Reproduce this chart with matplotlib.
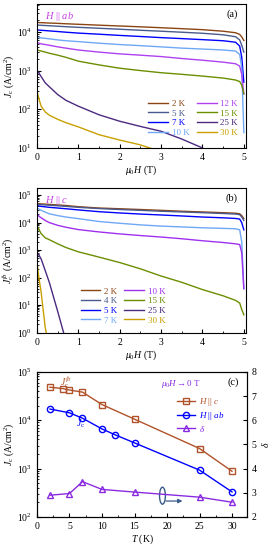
import matplotlib
matplotlib.use("Agg")
import matplotlib.pyplot as plt
import numpy as np
from matplotlib.patches import Ellipse
from matplotlib.ticker import LogLocator, MultipleLocator, NullFormatter

plt.rcParams["font.family"] = ["Liberation Serif", "DejaVu Serif"]
plt.rcParams["mathtext.fontset"] = "custom"
plt.rcParams["mathtext.rm"] = "Liberation Serif"
plt.rcParams["mathtext.it"] = "Liberation Serif:italic"
plt.rcParams["font.size"] = 7

# field grid (T), shared by the panels (a) and (b)
field = [0, 0.05, 0.1, 0.2, 0.3, 0.5, 0.7, 1, 1.5, 2, 2.5, 3, 3.5, 4, 4.5, 4.8, 4.9, 4.95, 5.0]

# (a) H || ab
temps_a = ["2 K", "5 K", "7 K", "10 K", "12 K", "15 K", "25 K", "30 K"]
jc_ab_2K = [1.75e4, 1.74e4, 1.73e4, 1.71e4, 1.69e4, 1.66e4, 1.62e4, 1.57e4, 1.49e4, 1.42e4, 1.35e4, 1.28e4, 1.21e4, 1.14e4, 1.04e4, 9.5e3, 8.6e3, 7.4e3, 6e3]
jc_ab_5K = [1.5e4, 1.49e4, 1.48e4, 1.46e4, 1.44e4, 1.4e4, 1.36e4, 1.31e4, 1.24e4, 1.17e4, 1.1e4, 1.04e4, 9.8e3, 9.2e3, 8.4e3, 7.5e3, 6.2e3, 4.5e3, 3e3]
jc_ab_7K = [1.12e4, 1.11e4, 1.1e4, 1.08e4, 1.06e4, 1.02e4, 9.8e3, 9.3e3, 8.7e3, 8.1e3, 7.6e3, 7.1e3, 6.7e3, 6.3e3, 5.9e3, 5.4e3, 4.3e3, 2.2e3, 5e2]
jc_ab_10K = [7.3e3, 7.1e3, 7e3, 6.8e3, 6.6e3, 6.2e3, 5.9e3, 5.6e3, 5.1e3, 4.7e3, 4.4e3, 4.1e3, 3.8e3, 3.6e3, 3.4e3, 3.2e3, 2.6e3, 1.2e3, 25]
jc_ab_12K = [5.3e3, 5.1e3, 4.9e3, 4.7e3, 4.5e3, 4.1e3, 3.8e3, 3.4e3, 3.0e3, 2.7e3, 2.5e3, 2.3e3, 2.05e3, 1.85e3, 1.65e3, 1.5e3, 1.3e3, 800, 250]
jc_ab_15K = [3.4e3, 3.3e3, 3.2e3, 3.0e3, 2.8e3, 2.5e3, 2.2e3, 1.75e3, 1.4e3, 1.15e3, 1.0e3, 880, 800, 720, 640, 570, 520, 420, 250]
jc_ab_25K = [1e3, 850, 700, 480, 380, 240, 170, 120, 72, 49, 36, 27, 17, 10, 4, 3, 3, 3, 3]
jc_ab_30K = [300, 180, 120, 85, 70, 55, 45, 35, 22, 16, 12, 8, 5, 5, 5, 5, 5, 5, 5]

# (b) H || c
temps_b = ["2 K", "4 K", "5 K", "7 K", "10 K", "15 K", "25 K", "30 K"]
jc_c_2K = [4.9e4, 4.85e4, 4.8e4, 4.7e4, 4.6e4, 4.4e4, 4.2e4, 3.8e4, 3.4e4, 3.2e4, 3.0e4, 2.8e4, 2.6e4, 2.45e4, 2.3e4, 2.2e4, 2.1e4, 1.8e4, 1.4e4]
jc_c_4K = [4.6e4, 4.55e4, 4.5e4, 4.4e4, 4.3e4, 4.1e4, 3.9e4, 3.6e4, 3.25e4, 3.0e4, 2.8e4, 2.6e4, 2.45e4, 2.3e4, 2.15e4, 2.05e4, 1.95e4, 1.6e4, 1.2e4]
jc_c_5K = [4.1e4, 4.0e4, 3.9e4, 3.75e4, 3.6e4, 3.4e4, 3.2e4, 2.9e4, 2.5e4, 2.25e4, 2.05e4, 1.9e4, 1.75e4, 1.6e4, 1.5e4, 1.42e4, 1.35e4, 1.0e4, 5.5e3]
jc_c_7K = [3.4e4, 3.1e4, 2.8e4, 2.4e4, 2.1e4, 1.8e4, 1.6e4, 1.4e4, 1.1e4, 9.5e3, 8.3e3, 7.5e3, 7e3, 6.5e3, 6.2e3, 6e3, 5.5e3, 2e3, 40]
jc_c_10K = [2.1e4, 1.7e4, 1.5e4, 1.2e4, 1.0e4, 8e3, 6.8e3, 5.6e3, 4.6e3, 3.9e3, 3.4e3, 3e3, 2.6e3, 2.2e3, 1.9e3, 1.7e3, 1.6e3, 800, 40]
jc_c_15K = [8e3, 5.5e3, 4e3, 2.8e3, 2.4e3, 1.7e3, 1.25e3, 870, 560, 355, 210, 115, 68, 37, 22, 15, 12, 7, 4.5]
jc_c_25K = [830, 650, 480, 180, 66, 6, 0.5, 0.1, 0.1, 0.1, 0.1, 0.1, 0.1, 0.1, 0.1, 0.1, 0.1, 0.1, 0.1]
jc_c_30K = [355, 90, 30, 1.5, 0.3, 0.1, 0.1, 0.1, 0.1, 0.1, 0.1, 0.1, 0.1, 0.1, 0.1, 0.1, 0.1, 0.1, 0.1]

# (c) self-field values vs temperature
T_c = [2, 4, 5, 7, 10, 15, 25, 30]
jc0_c = [4.8e4, 4.5e4, 4.2e4, 3.8e4, 2.1e4, 1.05e4, 2.6e3, 880]
T_ab = [2, 5, 7, 10, 12, 15, 25, 30]
jc0_ab = [1.7e4, 1.42e4, 1.1e4, 6.6e3, 5.0e3, 3.4e3, 930, 330]
T_delta = [2, 5, 7, 10, 15, 25, 30]
delta = [2.9, 2.97, 3.46, 3.14, 3.03, 2.82, 2.61]

colors_a = ["#8b4513", "#4a5a8c", "#0000ff", "#6fa8f5", "#b040f0", "#6b8e00", "#4b2a80", "#c8a000"]
colors_b = ["#8b4513", "#4a5a8c", "#0000ff", "#6fa8f5", "#a030f0", "#6b8e00", "#4b2a80", "#c8a000"]

fig = plt.figure(figsize=(2.72, 5.5), dpi=100)
ax_a = fig.add_axes([0.136, 0.731, 0.768, 0.262])
ax_b = fig.add_axes([0.136, 0.395, 0.768, 0.263])
ax_c = fig.add_axes([0.136, 0.060, 0.772, 0.264])


def style_field_axis(ax):
    ax.set_yscale("log")
    ax.set_xlim(0, 5.05)
    ax.xaxis.set_major_locator(MultipleLocator(1))
    ax.xaxis.set_minor_locator(MultipleLocator(0.5))
    ax.yaxis.set_major_locator(LogLocator(base=10, numticks=10))
    ax.yaxis.set_minor_locator(LogLocator(base=10, subs=np.arange(2, 10), numticks=10))
    ax.yaxis.set_minor_formatter(NullFormatter())
    ax.tick_params(which="both", direction="in", top=False, right=False)
    ax.tick_params(which="major", length=3)
    ax.tick_params(which="minor", length=1.5)
    ax.set_xlabel(r"$\mu_0H$ (T)", labelpad=1)


curves_a = [jc_ab_2K, jc_ab_5K, jc_ab_7K, jc_ab_10K, jc_ab_12K, jc_ab_15K, jc_ab_25K, jc_ab_30K]
for lab, col, jc in zip(temps_a, colors_a, curves_a):
    ax_a.plot(field, jc, color=col, lw=1.0, label=lab)
style_field_axis(ax_a)
ax_a.set_ylim(10, 5.3e4)
ax_a.set_ylabel(r"$J_{\rm c}$ (A/cm$^2$)", labelpad=1)
ax_a.text(0.04, 0.96, r"$H$ || $ab$", transform=ax_a.transAxes, color="#c040e0", ha="left", va="top", fontsize=7.5)
ax_a.text(0.96, 0.96, "(a)", transform=ax_a.transAxes, ha="right", va="top", fontsize=7.5)
leg = ax_a.legend(loc="lower right", ncol=2, frameon=False, fontsize=6.5, handlelength=2.2,
                  columnspacing=0.8, handletextpad=0.4, labelspacing=0.15,
                  bbox_to_anchor=(1.0, 0.02))
for t, col in zip(leg.get_texts(), colors_a):
    t.set_color(col)

curves_b = [jc_c_2K, jc_c_4K, jc_c_5K, jc_c_7K, jc_c_10K, jc_c_15K, jc_c_25K, jc_c_30K]
for lab, col, jc in zip(temps_b, colors_b, curves_b):
    ax_b.plot(field, jc, color=col, lw=1.0, label=lab)
style_field_axis(ax_b)
ax_b.set_ylim(1, 1.8e5)
ax_b.set_ylabel(r"$J_{\rm c}^{fb}$ (A/cm$^2$)", labelpad=1)
ax_b.text(0.04, 0.96, r"$H$ || $c$", transform=ax_b.transAxes, color="#c040e0", ha="left", va="top", fontsize=7.5)
ax_b.text(0.96, 0.96, "(b)", transform=ax_b.transAxes, ha="right", va="top", fontsize=7.5)
leg = ax_b.legend(loc="lower left", ncol=2, frameon=False, fontsize=6.5, handlelength=2.2,
                  columnspacing=0.8, handletextpad=0.4, labelspacing=0.15,
                  bbox_to_anchor=(0.17, 0.0))
for t, col in zip(leg.get_texts(), colors_b):
    t.set_color(col)

# (c)
c_sq = "#b0522a"
c_ci = "#0000ff"
c_tr = "#8a2be2"
h1, = ax_c.plot(T_c, jc0_c, "-s", color=c_sq, mfc="none", ms=4, lw=1.0, mew=1.0, label=r"$H$ || $c$")
h2, = ax_c.plot(T_ab, jc0_ab, "-o", color=c_ci, mfc="none", ms=4.5, lw=1.0, mew=1.0, label=r"$H$ || $ab$")
ax_c.set_yscale("log")
ax_c.set_ylim(1e2, 1e5)
ax_c.set_xlim(0, 32.3)
ax_c.xaxis.set_major_locator(MultipleLocator(5))
ax_c.xaxis.set_minor_locator(MultipleLocator(2.5))
ax_c.yaxis.set_minor_locator(LogLocator(base=10, subs=np.arange(2, 10), numticks=10))
ax_c.yaxis.set_minor_formatter(NullFormatter())
ax_c.tick_params(which="both", direction="in", top=False, right=False)
ax_c.tick_params(which="major", length=3)
ax_c.tick_params(which="minor", length=1.5)
ax_c.set_xlabel(r"$T$ (K)", labelpad=1)
ax_c.set_ylabel(r"$J_{\rm c}$ (A/cm$^2$)", labelpad=1)
ax_c.text(3.5, 5.3e4, r"$J_{\rm c}^{fb}$", color=c_sq, fontsize=7)
ax_c.text(6.0, 7.5e3, r"$J_{\rm c}$", color=c_ci, fontsize=7)

ax_d = ax_c.twinx()
h3, = ax_d.plot(T_delta, delta, "-^", color=c_tr, mfc="none", ms=4.5, lw=1.0, mew=1.0, label=r"$\delta$")
ax_d.set_ylim(2, 8)
ax_d.yaxis.set_major_locator(MultipleLocator(1))
ax_d.tick_params(direction="in", length=3)
ax_d.set_ylabel(r"$\delta$", labelpad=2)
ax_d.add_patch(Ellipse((19.3, 2.88), 0.9, 0.7, fill=False, color="#3a5a8a", lw=1.0))
ax_d.annotate("", xy=(22.8, 2.66), xytext=(19.4, 2.66),
              arrowprops=dict(arrowstyle="-|>", color="#3a5a8a", lw=0.9, mutation_scale=6))

ax_d.text(0.96, 0.96, "(c)", transform=ax_d.transAxes, ha="right", va="top", fontsize=7.5)
ax_d.text(0.78, 0.96, r"$\mu_0H\rightarrow0$ T", transform=ax_d.transAxes, ha="right", va="top",
          fontsize=6.5, color="#8a2be2")
leg = ax_d.legend([h1, h2, h3], [h1.get_label(), h2.get_label(), h3.get_label()],
                  loc="upper right", bbox_to_anchor=(0.93, 0.89), frameon=False, fontsize=6.5,
                  handlelength=2.0, handletextpad=0.4, labelspacing=0.2)
for t, col in zip(leg.get_texts(), [c_sq, c_ci, c_tr]):
    t.set_color(col)

fig.savefig("out.png", dpi=100)
